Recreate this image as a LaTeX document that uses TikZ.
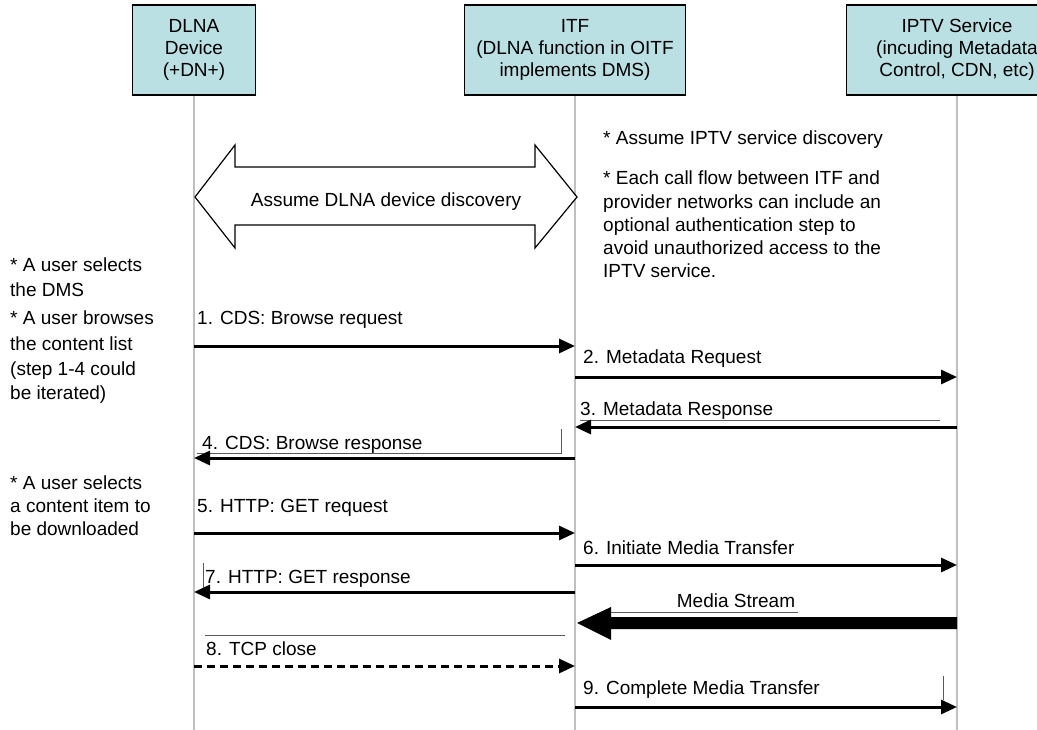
\documentclass[tikz,border=0pt]{standalone}
\usepackage{fontspec}
\setmainfont{Liberation Sans}
\usetikzlibrary{arrows.meta}
\definecolor{hdrfill}{RGB}{187,224,228}
\definecolor{lifegray}{RGB}{192,192,192}
\definecolor{thingray}{RGB}{90,90,90}
\begin{document}
\begin{tikzpicture}[x=1pt,y=-1pt,
  font=\fontsize{19}{22}\selectfont,
  hdr/.style={draw=black, line width=1.5pt, fill=hdrfill, align=center,
              minimum height=90pt, inner sep=0pt},
  life/.style={draw=lifegray, line width=2pt},
  msg/.style={line width=3pt, -{Triangle[length=16pt,width=14pt]}},
  dmsg/.style={msg, dash pattern=on 8pt off 5pt},
  lbl/.style={anchor=base west, inner sep=0pt},
  thinln/.style={draw=thingray, line width=0.6pt}]
\clip (0,0) rectangle (1037,730);
\fill[white] (0,0) rectangle (1037,730);

% headers
\node[hdr, minimum width=123pt] (dlna) at (194,50) {DLNA\\Device\\(+DN+)};
\node[hdr, minimum width=221pt] (itf) at (575,50) {ITF\\(DLNA function in OITF\\implements DMS)};
\node[hdr, minimum width=221pt] (iptv) at (957,50) {IPTV Service\\(incuding Metadata\\Control, CDN, etc)};

% lifelines
\coordinate (dB) at (194,730);
\coordinate (iB) at (575,730);
\coordinate (pB) at (957,730);
\draw[life] (dlna.south) -- (dB);
\draw[life] (itf.south) -- (iB);
\draw[life] (iptv.south) -- (pB);

% discovery double arrow
\draw[fill=white, line width=1.2pt, line join=miter]
  (195,197) -- (235,145) -- (235,167) -- (535,167) -- (535,145) -- (577,197)
  -- (535,248) -- (535,225) -- (235,225) -- (235,248) -- cycle;
\node[anchor=base, inner sep=0pt] (disc) at (386,207) {Assume DLNA device discovery};

% right notes
\node[lbl] (r1) at (603,145) {* Assume IPTV service discovery};
\node[lbl] (r2) at (603,185) {* Each call flow between ITF and};
\node[lbl] (r3) at (603,209) {provider networks can include an};
\node[lbl] (r4) at (603,232) {optional authentication step to};
\node[lbl] (r5) at (603,255) {avoid unauthorized access to the};
\node[lbl] (r6) at (603,278) {IPTV service.};

% left notes
\node[lbl] (l1) at (10,272) {* A user selects};
\node[lbl] (l2) at (10,297) {the DMS};
\node[lbl] (l3) at (10,324) {* A user browses};
\node[lbl] (l4) at (10,350) {the content list};
\node[lbl] (l5) at (10,375) {(step 1-4 could};
\node[lbl] (l6) at (10,399) {be iterated)};
\node[lbl] (l7) at (10,489) {* A user selects};
\node[lbl] (l8) at (10,512) {a content item to};
\node[lbl] (l9) at (10,535) {be downloaded};

% message end points
\coordinate (m1a) at (194,346); \coordinate (m1b) at (575,346);
\coordinate (m2a) at (575,377); \coordinate (m2b) at (957,377);
\coordinate (m3a) at (957,427); \coordinate (m3b) at (575,427);
\coordinate (m4a) at (575,458); \coordinate (m4b) at (194,458);
\coordinate (m5a) at (194,533); \coordinate (m5b) at (575,533);
\coordinate (m6a) at (575,565); \coordinate (m6b) at (957,565);
\coordinate (m7a) at (575,592); \coordinate (m7b) at (194,592);
\coordinate (m8a) at (194,666); \coordinate (m8b) at (575,666);
\coordinate (m9a) at (575,707); \coordinate (m9b) at (957,707);

% thin leftover lines
\draw[thinln] (580,420) -- (940,420);
\draw[thinln] (561,429) -- (561,453) -- (197,453);
\draw[thinln] (203,563) -- (203,588);
\draw[thinln] (610,612) -- (798,612);
\draw[thinln] (205,635) -- (565,635);
\draw[thinln] (943,676) -- (943,700);

% labels
\node[lbl] (t1) at (197,325) {1. CDS: Browse request};
\node[lbl] (t2) at (583,363) {2. Metadata Request};
\node[lbl] (t3) at (580,415) {3. Metadata Response};
\node[lbl] (t4) at (202,449) {4. CDS: Browse response};
\node[lbl] (t5) at (197,512) {5. HTTP: GET request};
\node[lbl] (t6) at (583,554) {6. Initiate Media Transfer};
\node[lbl] (t7) at (205,583) {7. HTTP: GET response};
\node[anchor=base, inner sep=0pt] (tms) at (736,607) {Media Stream};
\node[lbl] (t8) at (206,655) {8. TCP close};
\node[lbl] (t9) at (583,694) {9. Complete Media Transfer};

% messages
\draw[msg] (m1a) -- (m1b);
\draw[msg] (m2a) -- (m2b);
\draw[msg] (m3a) -- (m3b);
\draw[msg] (m4a) -- (m4b);
\draw[msg] (m5a) -- (m5b);
\draw[msg] (m6a) -- (m6b);
\draw[msg] (m7a) -- (m7b);
\draw[dmsg] (m8a) -- (m8b);
\draw[msg] (m9a) -- (m9b);

% media stream fat arrow
\fill[black] (957,617) -- (611,617) -- (611,607) -- (577,623) -- (611,640)
  -- (611,629) -- (957,629) -- cycle;
\end{tikzpicture}
\end{document}
